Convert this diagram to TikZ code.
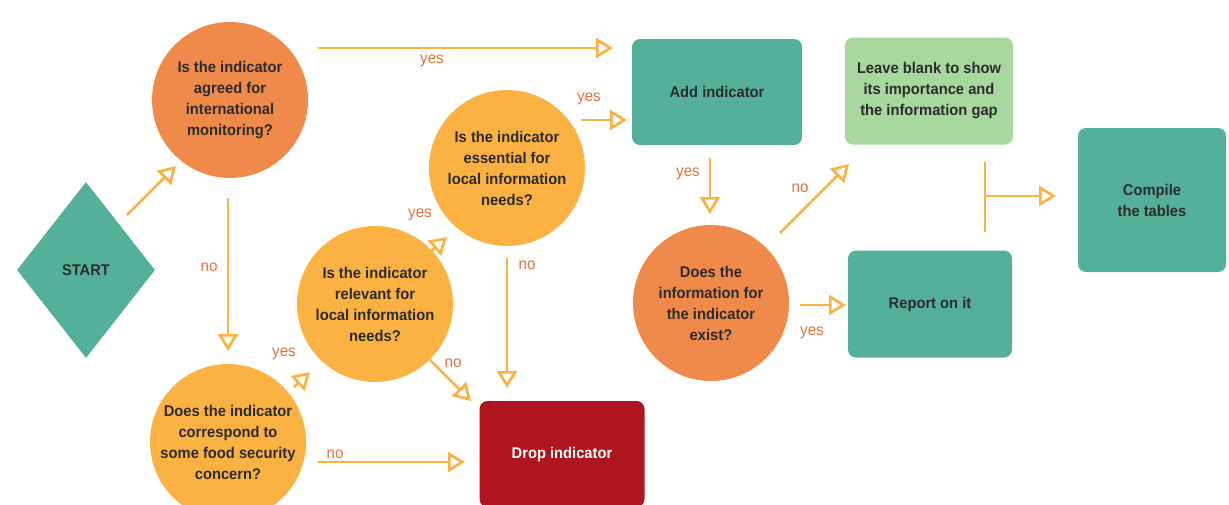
\documentclass[tikz,border=0pt]{standalone}
\usepackage{fontspec}
\setmainfont[FakeStretch=0.95]{Liberation Sans}
\usetikzlibrary{arrows.meta,shapes.geometric}
\definecolor{teal1}{HTML}{55B09A}
\definecolor{lgreen}{HTML}{A8D7A0}
\definecolor{orng}{HTML}{F08A4B}
\definecolor{yel}{HTML}{FBB242}
\definecolor{dred}{HTML}{AE151E}
\definecolor{lbl}{HTML}{E8703A}
\definecolor{txt}{HTML}{2B2B2B}
\tikzset{
  qcirc/.style={circle,minimum size=156pt,inner sep=0pt,align=center,font=\bfseries\fontsize{15.5}{21}\selectfont,text=txt},
  orcirc/.style={qcirc,fill=orng},
  yecirc/.style={qcirc,fill=yel},
  boxn/.style={rounded corners=8pt,align=center,font=\bfseries\fontsize{15.5}{21}\selectfont,text=txt},
  conn/.style={draw=yel,line width=2.7pt,-{Triangle[open,length=17pt,width=20pt,line width=2.7pt]}},
  plain/.style={draw=yel,line width=2.7pt},
  lab/.style={text=lbl,font=\fontsize{16}{18}\selectfont}
}
\begin{document}
\begin{tikzpicture}[x=1pt,y=-1pt]
\useasboundingbox (0,0) rectangle (1229,504);
% shapes
\node[diamond,fill=teal1,minimum width=138pt,minimum height=176pt,inner sep=0pt,font=\bfseries\fontsize{15.5}{21}\selectfont,text=txt] (start) at (86,270) {START};
\node[orcirc] (q1) at (230,100) {Is the indicator\\agreed for\\international\\monitoring?};
\node[yecirc] (q2) at (507,168) {Is the indicator\\essential for\\local information\\needs?};
\node[yecirc] (q3) at (375,304) {Is the indicator\\relevant for\\local information\\needs?};
\node[yecirc] (q4) at (228,442) {Does the indicator\\correspond to\\some food security\\concern?};
\node[orcirc] (q5) at (711,303) {Does the\\information for\\the indicator\\exist?};
\node[boxn,fill=teal1,minimum width=170pt,minimum height=106pt] (add) at (717,92) {Add indicator};
\node[boxn,fill=lgreen,minimum width=168pt,minimum height=107pt] (blank) at (929,91) {Leave blank to show\\its importance and\\the information gap};
\node[boxn,fill=teal1,minimum width=164pt,minimum height=107pt] (report) at (930,304) {Report on it};
\node[boxn,fill=teal1,minimum width=148pt,minimum height=144pt] (compile) at (1152,200) {Compile\\the tables};
\node[boxn,fill=dred,text=white,minimum width=165pt,minimum height=106pt] (drop) at (562,454) {Drop indicator};
% junction coordinates
\coordinate (s1) at (127,215); \coordinate (e1) at (176,166);
\coordinate (s2) at (318,48);  \coordinate (e2) at (613,48);
\coordinate (s3) at (228,198); \coordinate (e3) at (228,351);
\coordinate (s4) at (294,387); \coordinate (e4) at (310,372);
\coordinate (s5) at (429,253); \coordinate (e5) at (447,237);
\coordinate (s6) at (581,120); \coordinate (e6) at (627,120);
\coordinate (s7) at (507,258); \coordinate (e7) at (507,388);
\coordinate (s8) at (430,360); \coordinate (e8) at (471,401);
\coordinate (s9) at (318,462); \coordinate (e9) at (465,462);
\coordinate (s10) at (710,158); \coordinate (e10) at (710,214);
\coordinate (s11) at (780,233); \coordinate (e11) at (849,164);
\coordinate (s12) at (800,305); \coordinate (e12) at (846,305);
\coordinate (j1) at (985,162); \coordinate (j2) at (985,232);
\coordinate (jm) at (985,196); \coordinate (e13) at (1056,196);
% connectors
\draw[conn] (s1) -- (e1);
\draw[conn] (s2) -- (e2);
\draw[conn] (s3) -- (e3);
\draw[conn] (s4) -- (e4);
\draw[conn] (s5) -- (e5);
\draw[conn] (s6) -- (e6);
\draw[conn] (s7) -- (e7);
\draw[conn] (s8) -- (e8);
\draw[conn] (s9) -- (e9);
\draw[conn] (s10) -- (e10);
\draw[conn] (s11) -- (e11);
\draw[conn] (s12) -- (e12);
\draw[plain] (j1) -- (j2);
\draw[conn] (jm) -- (e13);
% labels
\node[lab] at (432,61) {yes};
\node[lab] at (209,267) {no};
\node[lab] at (284,354) {yes};
\node[lab] at (420,215) {yes};
\node[lab] at (589,99) {yes};
\node[lab] at (527,265) {no};
\node[lab] at (453,363) {no};
\node[lab] at (335,454) {no};
\node[lab] at (688,174) {yes};
\node[lab] at (800,188) {no};
\node[lab] at (812,333) {yes};
\end{tikzpicture}
\end{document}
